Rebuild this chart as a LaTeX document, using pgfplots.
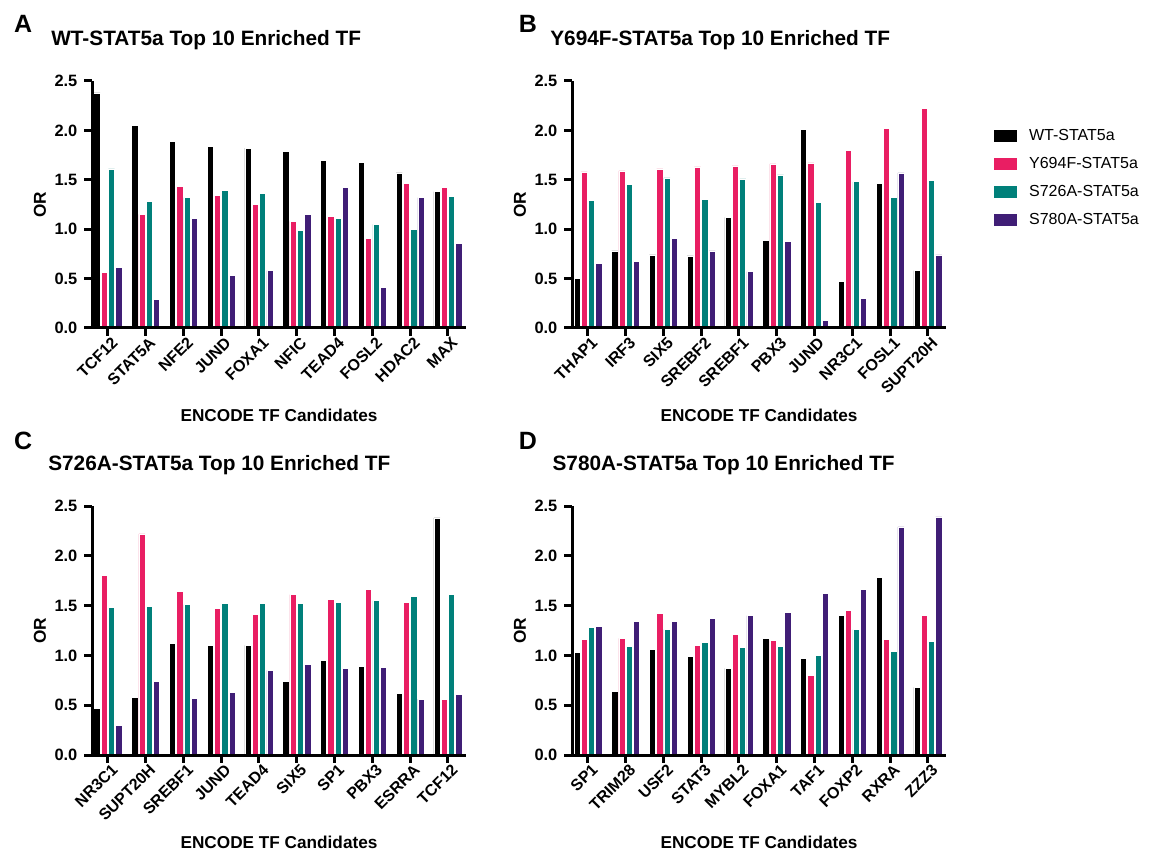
\documentclass[border=0pt]{standalone}
\usepackage{pgfplots}
\usepackage{pgfplotstable}
\pgfplotsset{compat=1.18}
\usepackage{fontspec}
\setmainfont{Liberation Sans}
\definecolor{cWT}{RGB}{0,0,0}
\definecolor{cY}{RGB}{233,30,99}
\definecolor{cS}{RGB}{0,128,122}
\definecolor{cP}{RGB}{64,30,118}

\pgfplotstableread{
x wt y s p
0 2.38 0.56 1.61 0.61
1 2.05 1.15 1.28 0.29
2 1.89 1.43 1.32 1.11
3 1.84 1.34 1.39 0.53
4 1.82 1.25 1.36 0.58
5 1.79 1.08 0.99 1.15
6 1.70 1.13 1.11 1.42
7 1.68 0.91 1.05 0.41
8 1.57 1.46 1.00 1.32
9 1.38 1.42 1.33 0.86
}\dataA
\pgfplotstableread{
x wt y s p
0 0.50 1.58 1.29 0.65
1 0.78 1.59 1.45 0.67
2 0.74 1.61 1.52 0.91
3 0.73 1.63 1.30 0.78
4 1.12 1.64 1.51 0.57
5 0.89 1.66 1.55 0.88
6 2.01 1.67 1.27 0.08
7 0.47 1.80 1.48 0.30
8 1.46 2.02 1.32 1.57
9 0.58 2.22 1.49 0.74
}\dataB
\pgfplotstableread{
x wt y s p
0 0.47 1.80 1.48 0.30
1 0.58 2.22 1.49 0.74
2 1.12 1.64 1.51 0.57
3 1.10 1.47 1.52 0.63
4 1.10 1.41 1.52 0.85
5 0.74 1.61 1.52 0.91
6 0.95 1.56 1.53 0.87
7 0.89 1.66 1.55 0.88
8 0.62 1.53 1.59 0.56
9 2.38 0.56 1.61 0.61
}\dataC
\pgfplotstableread{
x wt y s p
0 1.03 1.16 1.28 1.29
1 0.64 1.17 1.09 1.34
2 1.06 1.42 1.26 1.34
3 0.99 1.10 1.13 1.37
4 0.87 1.21 1.08 1.40
5 1.17 1.15 1.09 1.43
6 0.97 0.80 1.00 1.62
7 1.40 1.45 1.26 1.66
8 1.78 1.16 1.04 2.29
9 0.68 1.40 1.14 2.39
}\dataD

\pgfplotsset{
  panel/.style={
    scale only axis, width=187pt, height=123.5pt,
    xmin=-0.42, xmax=9.48, ymin=0, ymax=2.5,
    axis on top,
    axis x line*=bottom, axis y line*=left,
    axis line style={line width=1.5pt, -},
    xtick={0,1,2,3,4,5,6,7,8,9}, ytick={0,0.5,1,1.5,2,2.5},
    tick align=outside, major tick length=3.8pt,
    tick style={line width=1.5pt, black},
    /pgf/number format/assume math mode=true,
    yticklabel style={/pgf/number format/.cd, fixed, fixed zerofill, precision=1, /tikz/.cd, font=\fontsize{8.2}{9}\selectfont\bfseries},
    xticklabel style={rotate=45, anchor=north east, font=\fontsize{8}{9}\selectfont\bfseries, inner sep=1pt, xshift=2pt},
    ylabel={OR}, xlabel={ENCODE TF Candidates},
    ylabel style={at={(axis description cs:-0.139,0.5)}, anchor=center, font=\fontsize{8.6}{10}\selectfont\bfseries},
    xlabel style={at={(axis description cs:0.5,-0.352)}, anchor=center, font=\fontsize{8.6}{10}\selectfont\bfseries},
    clip=false,
  },
  bWT/.style={ybar, bar width=0.165, bar shift=-0.29, fill=cWT, draw=white, line width=0.3pt,
    legend image code/.code={\fill[cWT] (0pt,-2.75pt) rectangle (11pt,2.75pt);}},
  bY/.style={ybar, bar width=0.165, bar shift=-0.097, fill=cY, draw=white, line width=0.3pt,
    legend image code/.code={\fill[cY] (0pt,-2.75pt) rectangle (11pt,2.75pt);}},
  bS/.style={ybar, bar width=0.165, bar shift=0.097, fill=cS, draw=white, line width=0.3pt,
    legend image code/.code={\fill[cS] (0pt,-2.75pt) rectangle (11pt,2.75pt);}},
  bP/.style={ybar, bar width=0.165, bar shift=0.29, fill=cP, draw=white, line width=0.3pt,
    legend image code/.code={\fill[cP] (0pt,-2.75pt) rectangle (11pt,2.75pt);}},
}
\newcommand{\titlefont}{\fontsize{10.4}{12}\selectfont\bfseries}
\newcommand{\letterfont}{\fontsize{12.5}{14}\selectfont\bfseries}

\begin{document}
\begin{tikzpicture}
\path[use as bounding box] (0,0) rectangle (577.5pt,428pt);

% Panel A
\begin{axis}[panel, at={(46pt,264pt)}, anchor=south west,
  xticklabels={TCF12,STAT5A,NFE2,JUND,FOXA1,NFIC,TEAD4,FOSL2,HDAC2,MAX}]
\addplot[bWT] table[x=x,y=wt]{\dataA};
\addplot[bY] table[x=x,y=y]{\dataA};
\addplot[bS] table[x=x,y=s]{\dataA};
\addplot[bP] table[x=x,y=p]{\dataA};
\node[anchor=west, inner sep=0pt, font=\titlefont] at (axis description cs:-0.11,1.166) {WT-STAT5a Top 10 Enriched TF};
\node[font=\letterfont] at (axis description cs:-0.184,1.233) {A};
\end{axis}

% Panel B
\begin{axis}[panel, at={(286pt,264pt)}, anchor=south west,
  xticklabels={THAP1,IRF3,SIX5,SREBF2,SREBF1,PBX3,JUND,NR3C1,FOSL1,SUPT20H},
  legend style={draw=none, fill=none, at={(axis description cs:1.126,0.81)}, anchor=north west,
    inner sep=0pt, font=\fontsize{8}{9}\selectfont, row sep=6.5pt,
    nodes={inner sep=0pt, text height=6pt, text depth=1.5pt},
    /tikz/every even column/.append style={column sep=0pt}},
  legend cell align=left]
\addplot[bWT] table[x=x,y=wt]{\dataB};
\addplot[bY] table[x=x,y=y]{\dataB};
\addplot[bS] table[x=x,y=s]{\dataB};
\addplot[bP] table[x=x,y=p]{\dataB};
\legend{\hspace{6.5pt}WT-STAT5a,\hspace{6.5pt}Y694F-STAT5a,\hspace{6.5pt}S726A-STAT5a,\hspace{6.5pt}S780A-STAT5a}
\node[anchor=west, inner sep=0pt, font=\titlefont] at (axis description cs:-0.059,1.166) {Y694F-STAT5a Top 10 Enriched TF};
\node[font=\letterfont] at (axis description cs:-0.118,1.233) {B};
\end{axis}

% Panel C
\begin{axis}[panel, at={(46pt,50.5pt)}, anchor=south west, height=124.5pt,
  xticklabels={NR3C1,SUPT20H,SREBF1,JUND,TEAD4,SIX5,SP1,PBX3,ESRRA,TCF12}]
\addplot[bWT] table[x=x,y=wt]{\dataC};
\addplot[bY] table[x=x,y=y]{\dataC};
\addplot[bS] table[x=x,y=s]{\dataC};
\addplot[bP] table[x=x,y=p]{\dataC};
\node[anchor=west, inner sep=0pt, font=\titlefont] at (axis description cs:-0.118,1.163) {S726A-STAT5a Top 10 Enriched TF};
\node[font=\letterfont] at (axis description cs:-0.184,1.261) {C};
\end{axis}

% Panel D
\begin{axis}[panel, at={(286pt,50.5pt)}, anchor=south west, height=124.5pt,
  xticklabels={SP1,TRIM28,USF2,STAT3,MYBL2,FOXA1,TAF1,FOXP2,RXRA,ZZZ3}]
\addplot[bWT] table[x=x,y=wt]{\dataD};
\addplot[bY] table[x=x,y=y]{\dataD};
\addplot[bS] table[x=x,y=s]{\dataD};
\addplot[bP] table[x=x,y=p]{\dataD};
\node[anchor=west, inner sep=0pt, font=\titlefont] at (axis description cs:-0.053,1.163) {S780A-STAT5a Top 10 Enriched TF};
\node[font=\letterfont] at (axis description cs:-0.118,1.261) {D};
\end{axis}
\end{tikzpicture}
\end{document}
